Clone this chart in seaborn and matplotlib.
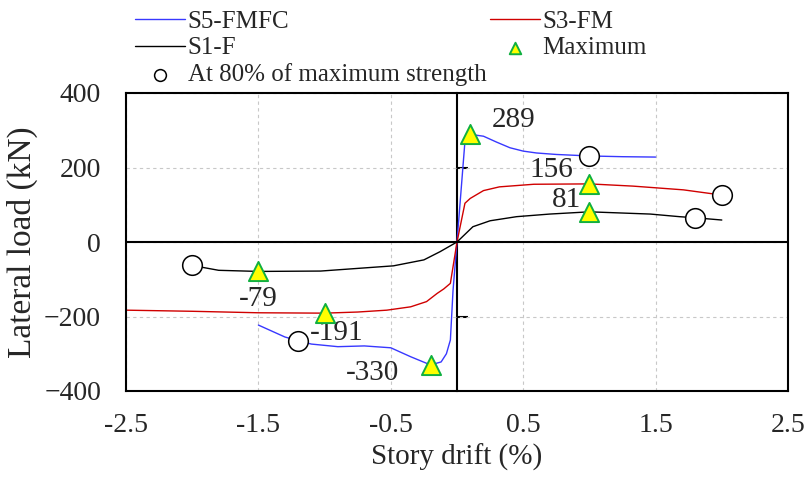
import numpy as np
import pandas as pd
import matplotlib as mpl
import matplotlib.pyplot as plt
import seaborn as sns

# envelope curves, story drift (%) vs lateral load (kN)
s5_drift = [-1.5, -1.3, -1.2, -1.1, -0.9, -0.7, -0.5, -0.35, -0.2, -0.12, -0.08, -0.05, -0.03, 0.0,
            0.06, 0.1, 0.2, 0.3, 0.4, 0.5, 0.6, 0.75, 1.0, 1.25, 1.5]
s5_load = [-223, -255, -265, -274, -281, -279, -284, -308, -330, -322, -300, -263, -130, 0,
           270, 289, 284, 268, 253, 244, 239, 235, 231, 229, 228]

s3_drift = [-2.5, -2.0, -1.5, -1.0, -0.75, -0.53, -0.35, -0.23, -0.15, -0.1, -0.05, 0.0,
            0.06, 0.1, 0.2, 0.32, 0.58, 1.0, 1.33, 1.71, 2.0]
s3_load = [-183, -186, -190, -191, -188, -183, -174, -160, -138, -126, -111, 0,
           104, 117, 138, 148, 155, 156, 150, 140, 126]

s1_drift = [-2.0, -1.8, -1.5, -1.03, -0.48, -0.25, -0.128, 0.0, 0.12, 0.25, 0.45, 0.7, 1.0, 1.46, 1.68, 1.8, 2.0]
s1_load = [-63, -76, -79, -78, -64, -48, -26, 0, 41, 57, 68, 75, 81, 75, 68, 65, 59]

# maximum points and labels
max_drift = [0.1, -0.2, 1.0, -1.0, 1.0, -1.5]
max_load = [289, -330, 156, -191, 81, -79]
max_text = ['289', '-330', '156', '-191', '81', '-79']
# label offsets in pixels
max_off = [(43, 14), (-58, -8), (-38, 14), (12, -20), (-23, 12), (0, -28)]

# 80% of maximum strength
p80_drift = [1.0, -1.2, 2.0, 1.8, -2.0]
p80_load = [231, -265, 126, 65, -63]

sns.set_style("white")
plt.rcParams['font.family'] = ['Liberation Serif', 'DejaVu Serif']

fig = plt.figure(figsize=(8.07, 4.78), dpi=100)
ax = fig.add_axes([126/807, 1-391/478, (788-126)/807, (391-93)/478])

sns.lineplot(x=s5_drift, y=s5_load, sort=False, estimator=None, color='#3838ff', lw=1.0, label='S5-FMFC', ax=ax)
sns.lineplot(x=s3_drift, y=s3_load, sort=False, estimator=None, color='#d00000', lw=1.0, label='S3-FM', ax=ax)
sns.lineplot(x=s1_drift, y=s1_load, sort=False, estimator=None, color='black', lw=1.0, label='S1-F', ax=ax)
sns.scatterplot(x=max_drift, y=max_load, marker='^', s=190, color='#ffff00', edgecolor='#10b040',
                linewidth=1.4, label='Maximum', ax=ax, zorder=5)
sns.scatterplot(x=p80_drift, y=p80_load, marker='o', s=200, color='white', edgecolor='black',
                linewidth=1.1, label='At 80% of maximum strength', ax=ax, zorder=5)

for x, y, t, off in zip(max_drift, max_load, max_text, max_off):
    ax.annotate(t, (x, y), xytext=off, textcoords='offset pixels', ha='center', va='center', fontsize=21)

ax.set_xlim(-2.5, 2.5)
ax.set_ylim(-400, 400)
ax.set_xticks(np.arange(-2.5, 2.6, 1.0))
ax.set_xticklabels(['-2.5', '-1.5', '-0.5', '0.5', '1.5', '2.5'])
ax.set_yticks([-400, -200, 0, 200, 400])
ax.tick_params(axis='both', length=0, labelsize=20)
ax.tick_params(axis='x', pad=16)
ax.tick_params(axis='y', pad=18)
ax.grid(True, ls=(0, (3, 3)), color='#c8c8c8', lw=0.8)
ax.axhline(0, color='black', lw=1.5, zorder=3)
for sp in ax.spines.values():
    sp.set_color('black')
    sp.set_linewidth(1.5)

# vertical axis through zero with small ticks
sec = ax.secondary_yaxis(0.5)
sec.set_yticks([-200, 200])
sec.set_yticklabels(['', ''])
sec.tick_params(length=8, width=1.5, direction='out', color='black')
for sp in sec.spines.values():
    sp.set_linewidth(1.5)
    sp.set_color('black')

ax.set_xlabel('Story drift (%)', fontsize=21, labelpad=4)
ax.set_ylabel('Lateral load (kN)', fontsize=24, labelpad=4)

h, l = ax.get_legend_handles_labels()
ax.get_legend().remove()
order = [0, 2, 4, 1, 3]
fig.legend([h[i] for i in order], [l[i] for i in order], loc='upper left', ncol=2,
           bbox_to_anchor=(135/807, 1-10/478), frameon=False, fontsize=18,
           handlelength=2.0, handletextpad=0.1, columnspacing=0.15, labelspacing=0.17,
           borderpad=0, borderaxespad=0, markerscale=0.6)

fig.savefig('out.png', dpi=100)
